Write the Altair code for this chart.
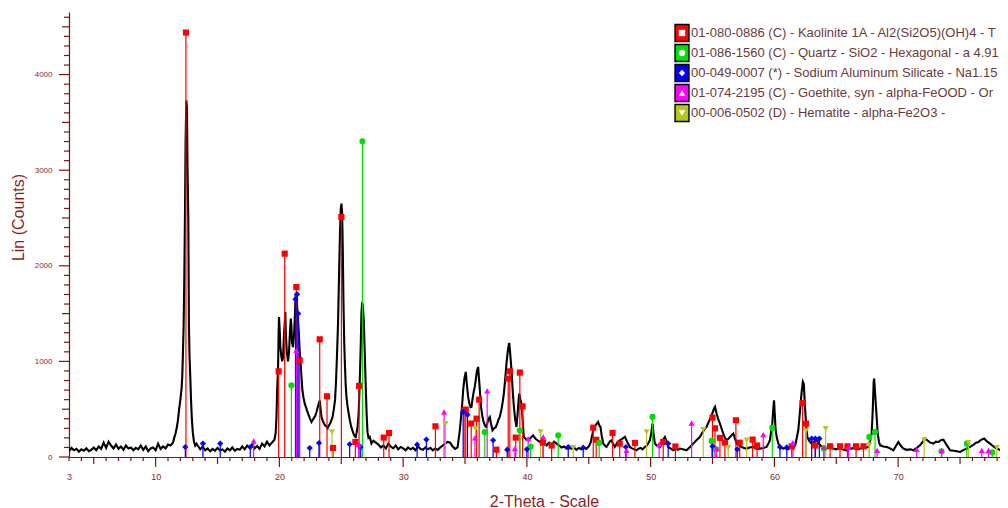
import altair as alt
import pandas as pd

# ---- measured XRD pattern (2-theta in degrees, counts) ----
two_theta = [
    3.0, 3.2, 3.4, 3.6, 3.8, 4.0, 4.2, 4.4, 4.6, 4.8, 5.0, 5.2, 5.4, 5.6, 5.8, 6.0, 6.2, 6.4, 6.6, 6.8,
    7.0, 7.2, 7.4, 7.6, 7.8, 8.0, 8.2, 8.4, 8.6, 8.8, 9.0, 9.2, 9.4, 9.6, 9.8, 10.0, 10.2, 10.4, 10.6, 10.8,
    11.0, 11.2, 11.4, 11.5, 11.6, 11.7, 11.8, 11.9, 12.0, 12.1, 12.15, 12.2, 12.26, 12.32, 12.37, 12.42,
    12.48, 12.53, 12.58, 12.64, 12.69, 12.74, 12.8, 12.86, 12.92, 13.0, 13.1, 13.2, 13.3,
    13.4, 13.6, 13.8, 14.0, 14.2, 14.4, 14.6, 14.8, 15.0, 15.2, 15.4, 15.6, 15.8, 16.0, 16.2, 16.4, 16.6,
    16.8, 17.0, 17.2, 17.4, 17.6, 17.8, 18.0, 18.2, 18.4, 18.6, 18.8, 19.0, 19.2, 19.4, 19.6,
    19.7, 19.76, 19.82, 19.89, 19.94, 19.97, 20.02, 20.08, 20.16, 20.23, 20.3, 20.36, 20.43, 20.48, 20.52,
    20.6, 20.7, 20.78, 20.85, 20.92, 20.97, 21.02, 21.1, 21.19, 21.26, 21.32, 21.37, 21.42, 21.46, 21.52,
    21.59, 21.64, 21.7, 21.78, 21.86, 21.95, 22.05, 22.15, 22.25, 22.32, 22.42, 22.5, 22.59, 22.7, 22.8,
    22.9, 23.0, 23.1, 23.18, 23.26, 23.33, 23.4, 23.5, 23.6, 23.7, 23.8, 23.9, 24.0, 24.1, 24.2, 24.3,
    24.4, 24.5, 24.58, 24.66, 24.74, 24.82, 24.9, 24.96, 25.02, 25.07, 25.12, 25.18, 25.24, 25.3, 25.36,
    25.42, 25.5, 25.6, 25.7, 25.8, 25.9, 26.0, 26.1, 26.17, 26.25, 26.32, 26.4, 26.46, 26.52, 26.58,
    26.63, 26.68, 26.72, 26.77, 26.82, 26.9, 26.98, 27.05, 27.12, 27.2, 27.3, 27.44, 27.6, 27.8,
    28.0, 28.2, 28.4, 28.6, 28.8, 29.0, 29.2, 29.4, 29.6, 29.8, 30.0, 30.2, 30.4, 30.6, 30.8, 31.0, 31.2,
    31.4, 31.6, 31.8, 32.0, 32.2, 32.4, 32.6, 32.8, 33.0, 33.2, 33.4, 33.6, 33.8, 34.0, 34.2, 34.4,
    34.58, 34.7, 34.8, 34.85, 34.95, 35.06, 35.15, 35.25, 35.35, 35.45, 35.52, 35.6, 35.7, 35.79, 35.88,
    35.96, 36.06, 36.13, 36.2, 36.3, 36.4, 36.47, 36.55, 36.65, 36.73, 36.82, 36.9, 37.0, 37.1, 37.22,
    37.35, 37.49, 37.6, 37.7, 37.81, 37.95, 38.05, 38.14, 38.25, 38.35, 38.45, 38.52, 38.57, 38.64, 38.7,
    38.76, 38.85, 38.95, 39.05, 39.16, 39.25, 39.32, 39.38, 39.47, 39.57, 39.65, 39.75, 39.9, 40.1, 40.3,
    40.5, 40.7, 40.9, 41.05, 41.2, 41.4, 41.59, 41.8, 42.0, 42.2, 42.4, 42.6, 42.8, 43.0, 43.2, 43.4,
    43.6, 43.8, 44.0, 44.2, 44.4, 44.6, 44.8, 45.0, 45.15, 45.3, 45.36, 45.5, 45.65, 45.76, 45.85, 45.95,
    46.05, 46.17, 46.3, 46.43, 46.6, 46.75, 46.84, 46.95, 47.1, 47.3, 47.5, 47.7, 47.92, 48.1, 48.32,
    48.5, 48.7, 48.86, 49.0, 49.2, 49.35, 49.53, 49.7, 49.94, 50.05, 50.15, 50.22, 50.34, 50.5, 50.75,
    50.95, 51.15, 51.3, 51.42, 51.6, 51.83, 52.0, 52.2, 52.36, 52.6, 52.9, 53.1, 53.3, 53.44, 53.7, 53.98,
    54.2, 54.4, 54.52, 54.7, 54.93, 55.1, 55.2, 55.33, 55.45, 55.6, 55.75, 55.87, 56.0, 56.14, 56.28,
    56.41, 56.55, 56.68, 56.8, 56.95, 57.15, 57.35, 57.55, 57.76, 58.0, 58.3, 58.55, 58.83, 59.1, 59.37,
    59.55, 59.64, 59.75, 59.83, 59.92, 59.97, 60.03, 60.1, 60.2, 60.32, 60.5, 60.72,
    60.9, 61.1, 61.3, 61.5, 61.7, 61.93, 62.05, 62.2, 62.3, 62.38, 62.47, 62.56, 62.66, 62.8, 63.01,
    63.2, 63.41, 63.6, 63.8, 63.95, 64.2, 64.5, 64.76, 65.0, 65.3, 65.6, 65.84, 66.1, 66.4, 66.7, 66.92,
    67.2, 67.4, 67.6, 67.75, 67.86, 67.95, 68.02, 68.06, 68.12, 68.21, 68.28, 68.35, 68.45, 68.54, 68.8,
    69.08, 69.35, 69.61, 69.8, 70.02, 70.2, 70.42, 70.7, 71.0, 71.23, 71.5, 71.77, 72.0, 72.18, 72.4,
    72.6, 72.85, 73.05, 73.25, 73.45, 73.66, 73.9, 74.2, 74.5, 74.75, 75.0, 75.3, 75.6, 75.81, 76.1,
    76.3, 76.49, 76.7, 76.95, 77.2, 77.43, 77.7, 77.97, 78.2, 78.5, 78.7, 78.9,
]
counts = [
    60, 95, 70, 85, 55, 80, 65, 90, 60, 75, 100, 70, 110, 85, 150, 95, 160, 120, 90, 130,
    85, 110, 75, 120, 90, 100, 70, 95, 80, 120, 75, 110, 60, 90, 100, 70, 140, 85, 110, 90,
    130, 120, 150, 200, 240, 300, 380, 500, 600, 720, 840, 1050, 1360, 1900, 2510, 3300,
    3730, 3650, 3000, 2510, 1400, 1050, 840, 600, 420, 260, 160, 120, 140,
    120, 80, 110, 70, 90, 60, 85, 65, 95, 70, 80, 55, 90, 70, 100, 65, 85,
    75, 110, 80, 120, 95, 130, 90, 115, 85, 140, 110, 160, 120, 150, 180,
    250, 400, 700, 907, 1300, 1465, 1350, 1150, 1050, 1000, 1046, 1250, 1400, 1517, 1300,
    1100, 1000, 1100, 1300, 1447, 1380, 1200, 1150, 1290, 1500, 1709, 1690, 1600, 1535, 1400,
    1256, 1100, 1011, 850, 698, 620, 558, 520, 480, 454, 420, 390, 366, 390, 410,
    430, 470, 520, 560, 590, 500, 420, 380, 350, 330, 320, 300, 330, 350, 384, 420,
    500, 600, 800, 1081, 1400, 1900, 2350, 2600, 2650, 2550, 2200, 1604, 1200, 950, 750,
    628, 540, 454, 380, 320, 279, 240, 215, 209, 260, 320, 450, 650, 907, 1200,
    1500, 1604, 1600, 1520, 1430, 1081, 733, 450, 260, 200, 210, 140, 170, 150,
    130, 100, 120, 90, 140, 110, 90, 120, 80, 105, 90, 70, 100, 80, 95, 70, 110,
    85, 75, 100, 80, 95, 70, 90, 75, 100, 120, 140, 157, 150, 110, 85, 100,
    279, 450, 600, 698, 820, 890, 760, 628, 560, 520, 523, 600, 680, 733, 820,
    900, 942, 820, 698, 520, 430, 384, 350, 320, 314, 360, 400, 419, 350, 279,
    300, 314, 350, 390, 419, 500, 580, 663, 820, 977, 1100, 1160, 1193, 1100, 1000,
    907, 700, 523, 400, 314, 450, 580, 663, 600, 558, 400, 209, 190, 175, 200,
    227, 190, 170, 157, 190, 150, 122, 150, 130, 160, 140, 120, 100, 110, 87, 95,
    88, 100, 75, 95, 80, 100, 85, 110, 150, 240, 280, 320, 350, 367, 330, 314,
    220, 140, 120, 105, 140, 170, 175, 140, 105, 150, 175, 190, 210, 160, 105,
    90, 80, 70, 85, 95, 80, 105, 120, 175, 250, 349, 260, 140, 120, 105,
    170, 210, 160, 105, 90, 70, 85, 75, 88, 80, 70, 95, 120, 140, 175, 210,
    260, 300, 314, 370, 436, 500, 524, 454, 400, 349, 290, 245, 200, 175, 190,
    210, 230, 245, 200, 140, 120, 105, 95, 88, 100, 105, 85, 88, 95, 105,
    150, 175, 280, 349, 520, 593, 450, 280, 200, 140, 100, 88,
    95, 80, 100, 88, 130, 280, 450, 680, 785, 760, 524, 350, 210, 170, 140,
    160, 175, 140, 110, 105, 90, 100, 88, 80, 95, 75, 70, 85, 95, 80, 88,
    95, 100, 105, 180, 245, 500, 780, 820, 700, 524, 380, 245, 160, 123, 110,
    105, 90, 70, 110, 157, 120, 88, 75, 80, 70, 95, 123, 160, 193, 170,
    150, 140, 160, 157, 175, 182, 130, 70, 65, 60, 53, 75, 90, 105, 130,
    150, 157, 180, 193, 160, 140, 110, 88, 75, 70, 72, 75,
]

# ---- reference patterns (stick positions and heights) ----
phases = ["Kaolinite", "Quartz", "Sodium Aluminum Silicate", "Goethite", "Hematite"]
phase_colors = ["#ff0000", "#00dd00", "#0000ff", "#ff00ff", "#b4c81c"]
phase_shapes = ["square", "circle", "diamond", "triangle-up", "triangle-down"]

kaolinite_pos = [12.45, 19.94, 20.43, 21.37, 21.64, 23.26, 23.85, 24.34, 25.01, 26.14, 26.44, 28.43,
                 28.86, 32.61, 34.93, 35.06, 35.5, 35.93, 36.14, 37.54, 38.49, 38.62, 39.1, 39.43,
                 39.65, 41.3, 42.0, 45.36, 45.6, 46.92, 47.5, 48.73, 51.02, 52.0, 55.0, 55.2, 55.6,
                 56.0, 56.89, 57.2, 58.24, 58.6, 61.4, 62.28, 62.55, 63.3, 64.5, 65.3, 65.9, 66.6, 67.2]
kaolinite_int = [4440, 896, 2127, 1778, 1011, 1231, 635, 94, 2511, 157, 743, 203,
                 251, 321, 488, 496, 350, 401, 600, 77, 820, 896, 203, 883,
                 530, 150, 120, 307, 180, 252, 140, 147, 157, 110, 412, 300, 200,
                 150, 384, 150, 182, 120, 112, 565, 349, 120, 112, 112, 112, 112, 112]

quartz_pos = [20.97, 26.71, 36.6, 39.43, 40.3, 42.53, 45.84, 50.15, 54.93, 55.3, 59.83, 64.0,
              67.67, 68.13, 73.5, 75.55, 77.6]
quartz_int = [750, 3302, 260, 279, 110, 227, 147, 419, 168, 80, 307, 90,
              210, 262, 60, 140, 50]

silicate_pos = [12.4, 13.82, 15.22, 17.65, 21.3, 21.43, 21.52, 22.45, 23.2, 25.68, 26.57, 31.13,
                31.88, 34.85, 35.2, 37.27, 38.41, 40.0, 43.34, 44.55, 48.0, 51.42, 55.0, 57.0,
                60.45, 61.0, 63.01, 63.3, 63.63]
silicate_int = [105, 140, 140, 105, 1650, 1702, 1500, 94, 146, 133, 105, 129,
                182, 471, 443, 175, 77, 80, 105, 98, 105, 140, 112, 80,
                105, 100, 193, 193, 193]

goethite_pos = [17.92, 21.37, 26.41, 33.31, 35.8, 36.79, 39.03, 40.1, 41.32, 48.05, 50.69, 53.31,
                55.33, 59.1, 61.5, 64.0, 65.98, 68.3, 71.5, 73.52, 76.76, 77.3]
goethite_int = [167, 1116, 133, 471, 200, 691, 87, 192, 210, 70, 133, 356,
                88, 234, 150, 100, 105, 70, 80, 70, 70, 70]

hematite_pos = [24.25, 33.42, 35.85, 41.1, 43.74, 49.67, 54.25, 56.27, 57.76, 62.55, 64.14, 67.67,
                72.1, 75.68, 77.97]
hematite_int = [262, 349, 297, 262, 98, 262, 286, 98, 175, 272, 297, 123,
                175, 150, 98]

legend_labels = [
    "01-080-0886 (C) - Kaolinite 1A - Al2(Si2O5)(OH)4 - T",
    "01-086-1560 (C) - Quartz - SiO2 - Hexagonal - a 4.91",
    "00-049-0007 (*) - Sodium Aluminum Silicate - Na1.15",
    "01-074-2195 (C) - Goethite, syn - alpha-FeOOD - Or",
    "00-006-0502 (D) - Hematite - alpha-Fe2O3 -",
]

# axis tick positions
x_label_values = [3, 10, 20, 30, 40, 50, 60, 70]
y_label_values = [0, 1000, 2000, 3000, 4000]
x_ticks_minor = [v for v in range(3, 79) if v % 5 != 0]
x_ticks_mid = [v for v in range(5, 79, 10)]
x_ticks_major = [10, 20, 30, 40, 50, 60, 70]
y_ticks_minor = [v for v in range(100, 4700, 100) if v % 500 != 0]
y_ticks_mid = [500, 1500, 2500, 3500, 4500]
y_ticks_major = [0, 1000, 2000, 3000, 4000]

df_curve = pd.DataFrame({"two_theta": two_theta, "counts": counts})

stick_frames = []
for name, pos, inten in zip(phases,
                            [kaolinite_pos, quartz_pos, silicate_pos, goethite_pos, hematite_pos],
                            [kaolinite_int, quartz_int, silicate_int, goethite_int, hematite_int]):
    stick_frames.append(pd.DataFrame({"two_theta": pos, "height": inten, "phase": name}))
df_sticks = pd.concat(stick_frames, ignore_index=True)

df_legend = pd.DataFrame({"phase": phases, "label": legend_labels})

ink = "#8b1f1f"
axis_col = "#7a1414"
font = "Liberation Sans"
W, H = 931, 445

x_scale = alt.Scale(domain=[3, 78.23], nice=False, zero=False)
y_scale = alt.Scale(domain=[0, 4655], nice=False)
color_scale = alt.Scale(domain=phases, range=phase_colors)
shape_scale = alt.Scale(domain=phases, range=phase_shapes)

x_axis = alt.Axis(
    values=x_label_values, ticks=False, tickSize=0, labelPadding=15,
    labelFontSize=9, labelColor=ink, labelFont=font, labelFlush=False,
    domainColor=axis_col, domainWidth=1.2, grid=False,
    title="2-Theta - Scale", titleFontSize=16, titleFontWeight="normal", titleColor=ink,
    titleFont=font, titleX=475, titleY=44, titleBaseline="middle", titleAlign="center",
)
y_axis = alt.Axis(
    values=y_label_values, format="d", ticks=False, tickSize=0, labelPadding=17,
    labelFontSize=8, labelColor=ink, labelFont=font, labelFlush=False,
    domainColor=axis_col, domainWidth=1.2, grid=False,
    title="Lin (Counts)", titleFontSize=16, titleFontWeight="normal", titleColor=ink,
    titleFont=font, titleX=-51, titleY=205, titleBaseline="middle", titleAlign="center",
)

curve = alt.Chart(df_curve).mark_line(color="black", strokeWidth=2.1, clip=True).encode(
    x=alt.X("two_theta:Q", scale=x_scale, axis=x_axis),
    y=alt.Y("counts:Q", scale=y_scale, axis=y_axis),
)


def x_tick_layer(values, length):
    return alt.Chart(pd.DataFrame({"v": values})).mark_rule(color=axis_col, strokeWidth=1.2).encode(
        x=alt.X("v:Q", scale=x_scale), y=alt.value(H), y2=alt.value(H + length)
    )


def y_tick_layer(values, length):
    return alt.Chart(pd.DataFrame({"v": values})).mark_rule(color=axis_col, strokeWidth=1.2).encode(
        y=alt.Y("v:Q", scale=y_scale), x=alt.value(0), x2=alt.value(-length)
    )


ticks = alt.layer(
    x_tick_layer(x_ticks_minor, 4), x_tick_layer(x_ticks_mid, 7), x_tick_layer(x_ticks_major, 10),
    y_tick_layer(y_ticks_minor, 5), y_tick_layer(y_ticks_mid, 7), y_tick_layer(y_ticks_major, 10),
)

sticks = alt.Chart(df_sticks).mark_rule(strokeWidth=1.2, clip=True).encode(
    x=alt.X("two_theta:Q", scale=x_scale),
    y=alt.Y("height:Q", scale=y_scale),
    y2=alt.datum(0),
    color=alt.Color("phase:N", scale=color_scale, legend=None),
)

tops = alt.Chart(df_sticks).mark_point(filled=True, size=38, opacity=1, clip=True).encode(
    x=alt.X("two_theta:Q", scale=x_scale),
    y=alt.Y("height:Q", scale=y_scale),
    color=alt.Color("phase:N", scale=color_scale, legend=None),
    shape=alt.Shape("phase:N", scale=shape_scale, legend=None),
)

main = alt.layer(curve, ticks, sticks, tops)

# legend box drawn by hand: coloured swatch with a white symbol, then the card text
row_y = alt.Y("phase:N", scale=alt.Scale(type="point", domain=phases, range=[21, 101], padding=0), axis=None)

swatch = alt.Chart(df_legend).mark_point(
    filled=True, shape="M-0.82,-1H0.82V1H-0.82Z", size=289, stroke="black", strokeWidth=1.4, opacity=1
).encode(
    x=alt.value(613), y=row_y,
    fill=alt.Fill("phase:N", scale=color_scale, legend=None),
)
symbol = alt.Chart(df_legend).mark_point(filled=True, size=40, color="white", opacity=1).encode(
    x=alt.value(613), y=row_y,
    shape=alt.Shape("phase:N", scale=shape_scale, legend=None),
)
label = alt.Chart(df_legend).mark_text(
    align="left", baseline="middle", font=font, fontSize=13, color="#6a3a3a"
).encode(x=alt.value(622), y=row_y, text="label:N")

legend = alt.layer(swatch, symbol, label)

chart = alt.layer(main, legend).resolve_scale(y="independent").properties(
    width=W, height=H,
    autosize=alt.AutoSizeParams(type="none"),
    padding={"left": 61, "top": 4, "right": 0, "bottom": 51},
    background="white",
).configure_view(stroke=None)

chart.save("out.html", embed_options={"renderer": "svg", "actions": False})
